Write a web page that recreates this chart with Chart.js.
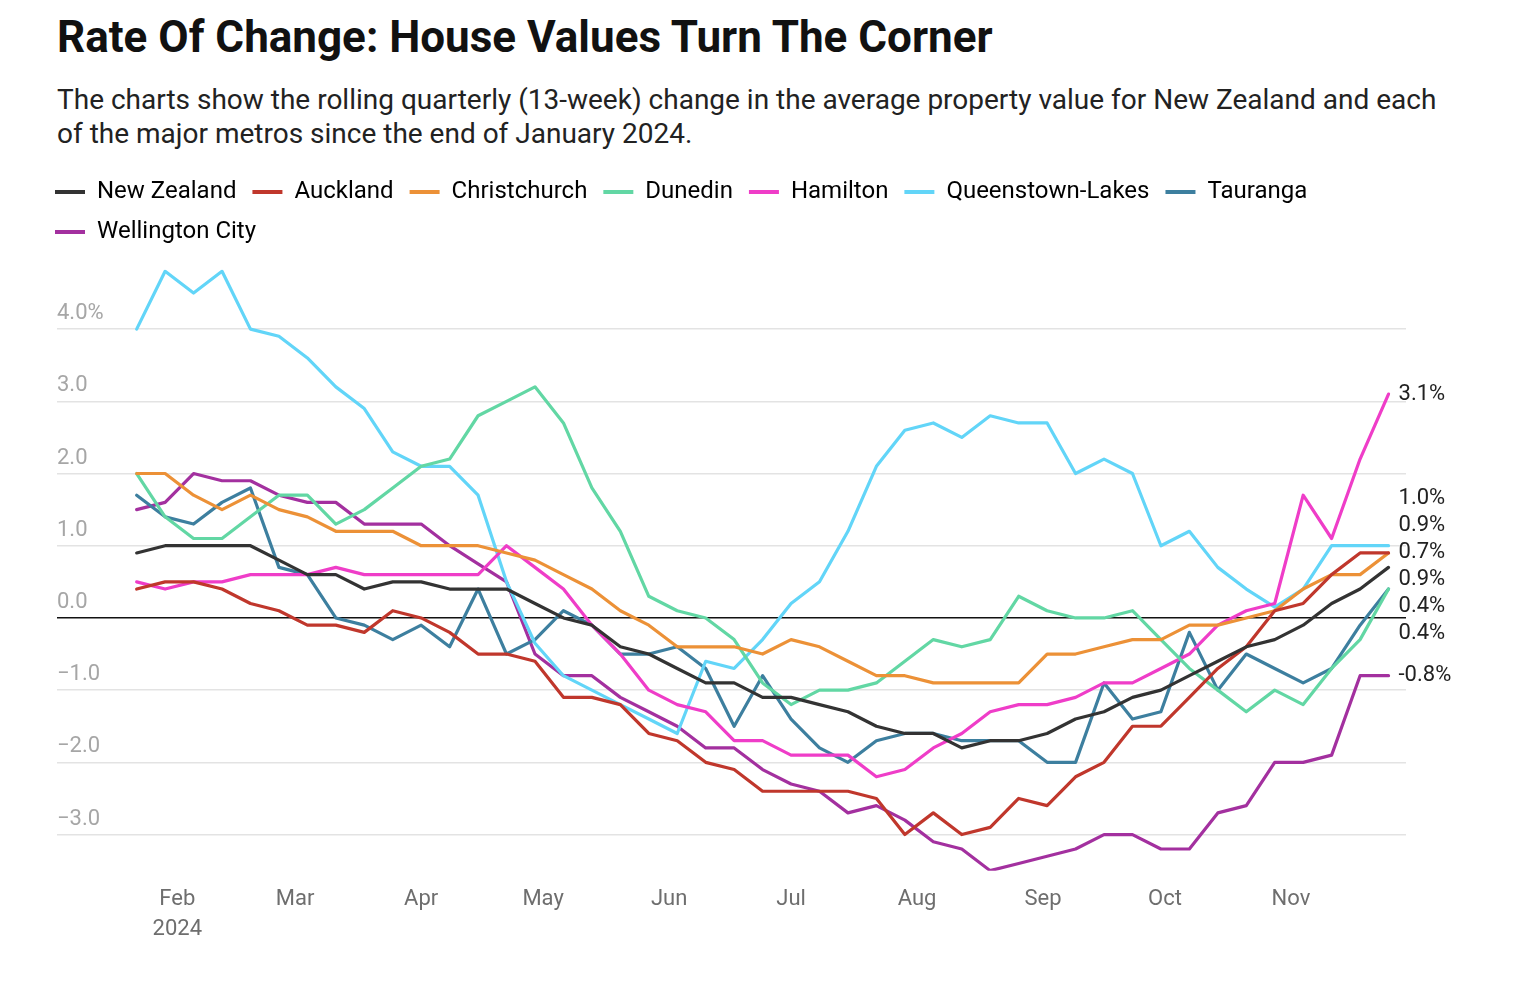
<!DOCTYPE html>
<html>
<head>
<meta charset="utf-8">
<script src="https://cdn.jsdelivr.net/npm/chart.js@4.4.1/dist/chart.umd.min.js"></script>
<style>
  html, body { margin: 0; padding: 0; background: #fff; }
  body { width: 1514px; height: 996px; position: relative; overflow: hidden; font-family: Roboto, "Noto Sans", sans-serif; }
  h1 { position: absolute; left: 57px; top: 11px; margin: 0; font-size: 44px; font-weight: 700; color: #111; white-space: nowrap; }
  .sub { position: absolute; left: 57px; top: 83px; margin: 0; font-size: 28px; line-height: 34px; color: #222; white-space: nowrap; }
  #wrap { position: absolute; left: 0; top: 163.5px; width: 1514px; height: 832.5px; }
</style>
</head>
<body>
<h1>Rate Of Change: House Values Turn The Corner</h1>
<p class="sub">The charts show the rolling quarterly (13-week) change in the average property value for New Zealand and each<br>of the major metros since the end of January 2024.</p>
<div id="wrap"><canvas id="chart"></canvas></div>
<script>
/* global Chart */

// weekly observation dates
const weeks = [
  "2024-01-22","2024-01-29","2024-02-05","2024-02-12","2024-02-19","2024-02-26",
  "2024-03-04","2024-03-11","2024-03-18","2024-03-25","2024-04-01","2024-04-08",
  "2024-04-15","2024-04-22","2024-04-29","2024-05-06","2024-05-13","2024-05-20",
  "2024-05-27","2024-06-03","2024-06-10","2024-06-17","2024-06-24","2024-07-01",
  "2024-07-08","2024-07-15","2024-07-22","2024-07-29","2024-08-05","2024-08-12",
  "2024-08-19","2024-08-26","2024-09-02","2024-09-09","2024-09-16","2024-09-23",
  "2024-09-30","2024-10-07","2024-10-14","2024-10-21","2024-10-28","2024-11-04",
  "2024-11-11","2024-11-18","2024-11-25"
];

const newZealand = [0.9,1.0,1.0,1.0,1.0,0.8,0.6,0.6,0.4,0.5,0.5,0.4,0.4,0.4,0.2,0.0,-0.1,-0.4,-0.5,-0.7,-0.9,-0.9,-1.1,-1.1,-1.2,-1.3,-1.5,-1.6,-1.6,-1.8,-1.7,-1.7,-1.6,-1.4,-1.3,-1.1,-1.0,-0.8,-0.6,-0.4,-0.3,-0.1,0.2,0.4,0.7];
const auckland = [0.4,0.5,0.5,0.4,0.2,0.1,-0.1,-0.1,-0.2,0.1,0.0,-0.2,-0.5,-0.5,-0.6,-1.1,-1.1,-1.2,-1.6,-1.7,-2.0,-2.1,-2.4,-2.4,-2.4,-2.4,-2.5,-3.0,-2.7,-3.0,-2.9,-2.5,-2.6,-2.2,-2.0,-1.5,-1.5,-1.1,-0.7,-0.4,0.1,0.2,0.6,0.9,0.9];
const christchurch = [2.0,2.0,1.7,1.5,1.7,1.5,1.4,1.2,1.2,1.2,1.0,1.0,1.0,0.9,0.8,0.6,0.4,0.1,-0.1,-0.4,-0.4,-0.4,-0.5,-0.3,-0.4,-0.6,-0.8,-0.8,-0.9,-0.9,-0.9,-0.9,-0.5,-0.5,-0.4,-0.3,-0.3,-0.1,-0.1,0.0,0.1,0.4,0.6,0.6,0.9];
const dunedin = [2.0,1.4,1.1,1.1,1.4,1.7,1.7,1.3,1.5,1.8,2.1,2.2,2.8,3.0,3.2,2.7,1.8,1.2,0.3,0.1,0.0,-0.3,-0.9,-1.2,-1.0,-1.0,-0.9,-0.6,-0.3,-0.4,-0.3,0.3,0.1,0.0,0.0,0.1,-0.3,-0.7,-1.0,-1.3,-1.0,-1.2,-0.7,-0.3,0.4];
const hamilton = [0.5,0.4,0.5,0.5,0.6,0.6,0.6,0.7,0.6,0.6,0.6,0.6,0.6,1.0,0.7,0.4,-0.1,-0.5,-1.0,-1.2,-1.3,-1.7,-1.7,-1.9,-1.9,-1.9,-2.2,-2.1,-1.8,-1.6,-1.3,-1.2,-1.2,-1.1,-0.9,-0.9,-0.7,-0.5,-0.1,0.1,0.2,1.7,1.1,2.2,3.1];
const queenstownLakes = [4.0,4.8,4.5,4.8,4.0,3.9,3.6,3.2,2.9,2.3,2.1,2.1,1.7,0.5,-0.35,-0.8,-1.0,-1.2,-1.4,-1.6,-0.6,-0.7,-0.3,0.2,0.5,1.2,2.1,2.6,2.7,2.5,2.8,2.7,2.7,2.0,2.2,2.0,1.0,1.2,0.7,0.4,0.15,0.4,1.0,1.0,1.0];
const tauranga = [1.7,1.4,1.3,1.6,1.8,0.7,0.6,0.0,-0.1,-0.3,-0.1,-0.4,0.4,-0.5,-0.3,0.1,-0.1,-0.5,-0.5,-0.4,-0.7,-1.5,-0.8,-1.4,-1.8,-2.0,-1.7,-1.6,-1.6,-1.7,-1.7,-1.7,-2.0,-2.0,-0.9,-1.4,-1.3,-0.2,-1.0,-0.5,-0.7,-0.9,-0.7,-0.1,0.4];
const wellingtonCity = [1.5,1.6,2.0,1.9,1.9,1.7,1.6,1.6,1.3,1.3,1.3,1.0,0.75,0.5,-0.5,-0.8,-0.8,-1.1,-1.3,-1.5,-1.8,-1.8,-2.1,-2.3,-2.4,-2.7,-2.6,-2.8,-3.1,-3.2,-3.5,-3.4,-3.3,-3.2,-3.0,-3.0,-3.2,-3.2,-2.7,-2.6,-2.0,-2.0,-1.9,-0.8,-0.8];

const seriesNames = ["New Zealand","Auckland","Christchurch","Dunedin","Hamilton","Queenstown-Lakes","Tauranga","Wellington City"];
const seriesValues = [newZealand, auckland, christchurch, dunedin, hamilton, queenstownLakes, tauranga, wellingtonCity];
const seriesColors = ["#333333","#c0372c","#ec9137","#62d7a4","#ef3dc8","#62d5f8","#3d7f9f","#a3309f"];

// order the end labels are stacked in, top to bottom
const labelOrder = ["Hamilton","Queenstown-Lakes","Auckland","New Zealand","Christchurch","Tauranga","Dunedin","Wellington City"];

const monthTicks = ["2024-02-01","2024-03-01","2024-04-01","2024-05-01","2024-06-01","2024-07-01","2024-08-01","2024-09-01","2024-10-01","2024-11-01"];
const monthLabels = [["Feb","2024"],"Mar","Apr","May","Jun","Jul","Aug","Sep","Oct","Nov"];
const yTicks = [-3, -2, -1, 0, 1, 2, 3, 4];

const FONT = "Roboto, 'Noto Sans', sans-serif";

function dayNum(s){
  const [y, m, d] = s.split("-").map(Number);
  return (Date.UTC(y, m - 1, d) - Date.UTC(2024, 0, 1)) / 86400000;
}

function yLabel(v){
  if (v === 4) return "4.0%";
  if (v < 0) return "\u2212" + Math.abs(v).toFixed(1);
  return v.toFixed(1);
}

function endText(v){
  return (v < 0 ? "-" : "") + Math.abs(v).toFixed(1) + "%";
}

// value labels at the right end of each line, pushed apart so they don't overlap
const endLabels = {
  id: "endLabels",
  afterDatasetsDraw(chart){
    const ctx = chart.ctx;
    const items = chart.data.datasets.map((ds, i) => {
      const meta = chart.getDatasetMeta(i);
      const pt = meta.data[meta.data.length - 1];
      const v = ds.data[ds.data.length - 1].y;
      return { text: endText(v), x: pt.x, y: pt.y, ly: pt.y, order: labelOrder.indexOf(ds.label) };
    }).sort((a, b) => a.order - b.order);

    const gap = 27;
    for (let it = 0; it < 300; it++){
      for (let i = 1; i < items.length; i++){
        const d = items[i].ly - items[i - 1].ly;
        if (d < gap){
          const s = (gap - d) / 2;
          items[i - 1].ly -= s;
          items[i].ly += s;
        }
      }
    }

    ctx.save();
    ctx.font = `22px ${FONT}`;
    ctx.fillStyle = "#222";
    ctx.textAlign = "left";
    ctx.textBaseline = "middle";
    for (const it of items){
      ctx.fillText(it.text, it.x + 10, it.ly);
    }
    ctx.restore();
  }
};

const days = weeks.map(dayNum);

const datasets = seriesNames.map((name, i) => ({
  label: name,
  data: seriesValues[i].map((v, j) => ({ x: days[j], y: v })),
  borderColor: seriesColors[i],
  backgroundColor: seriesColors[i],
  borderWidth: 3.2,
  pointRadius: 0,
  pointHoverRadius: 0,
  tension: 0,
  fill: false,
  borderJoinStyle: "round",
  borderCapStyle: "round"
}));

const ctx = document.getElementById("chart").getContext("2d");
new Chart(ctx, {
  type: "line",
  data: { datasets },
  options: {
    responsive: true,
    maintainAspectRatio: false,
    animation: false,
    layout: { padding: { left: 39, right: 108, top: 0, bottom: 38 } },
    plugins: {
      legend: {
        position: "top",
        align: "start",
        labels: {
          boxWidth: 30,
          boxHeight: 4,
          padding: 16,
          color: "#222",
          font: { family: FONT, size: 24 },
          generateLabels: (chart) => chart.data.datasets.map((d, i) => ({
            text: d.label,
            fillStyle: d.borderColor,
            strokeStyle: d.borderColor,
            lineWidth: 0,
            hidden: false,
            datasetIndex: i
          }))
        }
      },
      tooltip: { enabled: false }
    },
    scales: {
      x: {
        type: "linear",
        min: 1.4,
        max: 333.3,
        afterBuildTicks: (s) => { s.ticks = monthTicks.map(t => ({ value: dayNum(t) })); },
        grid: { display: false, drawTicks: false },
        border: { display: false },
        ticks: {
          autoSkip: false,
          maxRotation: 0,
          padding: 14,
          color: "#6e6e6e",
          font: { family: FONT, size: 22, lineHeight: 1.36 },
          callback: (v, i) => monthLabels[i]
        }
      },
      y: {
        min: -3.5,
        max: 5.04,
        afterBuildTicks: (s) => { s.ticks = yTicks.map(v => ({ value: v })); },
        afterFit: (s) => { s.width = 18; },
        grid: {
          drawTicks: false,
          color: (c) => c.tick && c.tick.value === 0 ? "#111" : "#e3e3e3",
          lineWidth: (c) => c.tick && c.tick.value === 0 ? 1.6 : 1.5
        },
        border: { display: false },
        ticks: {
          mirror: true,
          padding: 0,
          labelOffset: -15.5,
          color: "#a6a6a6",
          font: { family: FONT, size: 22 },
          callback: (v) => yLabel(v)
        }
      }
    }
  },
  plugins: [endLabels]
});
</script>
</body>
</html>
